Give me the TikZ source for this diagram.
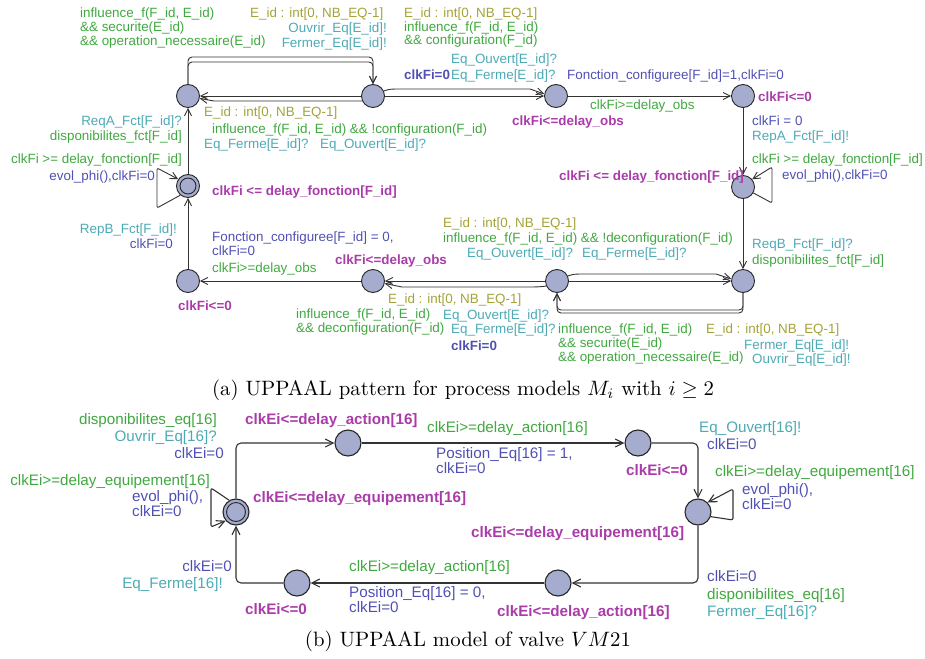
\documentclass[tikz,border=0pt]{standalone}
\usepackage{fontspec}
\usepackage{amsmath}
\usepackage{amssymb}
\usetikzlibrary{arrows.meta}
\newfontfamily\upfont{Liberation Sans}
\definecolor{locfill}{RGB}{165,172,205}
\definecolor{selc}{RGB}{163,163,57}
\definecolor{grdc}{RGB}{64,168,64}
\definecolor{sync}{RGB}{77,170,180}
\definecolor{asgc}{RGB}{80,80,180}
\definecolor{invc}{RGB}{170,60,170}

\begin{document}
\begin{tikzpicture}[x=1pt,y=-1pt,
        >={Straight Barb[length=7pt,width=7pt]},
        loc/.style={circle,draw=black!85,fill=locfill,line width=0.9pt,minimum size=23pt,inner sep=0pt},
        init/.style={loc,path picture={\draw[line width=0.9pt,draw=black!85] (path picture bounding box.center) circle (#1);}},
        edge/.style={draw=black!80,line width=0.9pt,->},
        lbl/.style={inner sep=0pt,align=left},
        sel/.style={lbl,text=selc},
        grd/.style={lbl,text=grdc},
        syn/.style={lbl,text=sync},
        asg/.style={lbl,text=asgc},
        asgb/.style={asg,execute at begin node=\bfseries},
        inv/.style={lbl,text=invc,execute at begin node=\bfseries}]
    \useasboundingbox (0,0) rectangle (925,658);

    \begin{scope}[font=\upfont\fontsize{13.4}{13.8}\selectfont]
        \node [init=8pt] (l0) at (188,186) {};
        \node [loc] (l1) at (188,96) {};
        \node [loc] (l2) at (373,96) {};
        \node [loc] (l3) at (556,96) {};
        \node [loc] (l4) at (743,96) {};
        \node [loc] (l5) at (743,187) {};
        \node [loc] (l6) at (743,281) {};
        \node [loc] (l7) at (557,281) {};
        \node [loc] (l8) at (373,281) {};
        \node [loc] (l9) at (188,281) {};

        \draw [edge,rounded corners=4] (l1) -- ++(0,-39) -| (l2);
        \draw [edge,rounded corners=4] (l1) -- ++(0,-34) -| (l2);
        \draw [edge] (l2) -- (l1);
        \draw [edge] (l2.205) .. controls (352,101) .. (338,101) -- (214,101) -- (l1.-12);
        \draw [edge] (l2) -- (l3);
        \draw [edge] (l2.25) .. controls (390,89) .. (402,89) -- (530,89) -- (l3.170);
        \draw [edge] (l3) -- (l4);
        \draw [edge] (l4) -- (l5);
        \draw [edge,rounded corners=2] (l5.-30) -- (772,203) -- (772,167) -- (l5.40);
        \draw [edge] (l5) -- (l6);
        \draw [edge] (l7) -- (l6);
        \draw [edge] (l7.25) .. controls (574,274) .. (586,274) -- (716,274) -- (l6.170);
        \draw [edge,rounded corners=4] (l6) -- ++(0,32) -| (l7);
        \draw [edge,rounded corners=4] (l6) -- ++(0,29) -| (l7);
        \draw [edge] (l7) -- (l8);
        \draw [edge] (l7.205) .. controls (538,287) .. (526,287) -- (402,287) -- (l8.-12);
        \draw [edge] (l8) -- (l9);
        \draw [edge] (l9) -- (l0);
        \draw [edge,rounded corners=2] (l0.230) -- (157,208) -- (157,168) -- (l0.145);
        \draw [edge] (l0) -- (l1);

        \node [grd,anchor=base west] (g1) at (80,45.5) {influence\_f(F\_id, E\_id)\\\&\& securite(E\_id)\\\&\& operation\_necessaire(E\_id)};
        \node [sel,anchor=base west] (s1) at (250,18) {E\_id : int[0, NB\_EQ-1]};
        \node [syn,anchor=base east] (y1) at (387,33) {Ouvrir\_Eq[E\_id]!};
        \node [syn,anchor=base east] (y2) at (387,48) {Fermer\_Eq[E\_id]!};
        \node [sel,anchor=base west] (s2) at (404,18) {E\_id : int[0, NB\_EQ-1]};
        \node [grd,anchor=base west] (g2) at (404,45) {influence\_f(F\_id, E\_id)\\\&\& configuration(F\_id)};
        \node [syn,anchor=base west] (y3) at (451,64) {Eq\_Ouvert[E\_id]?};
        \node [asgb,anchor=base west] (a1) at (404,80) {clkFi=0};
        \node [syn,anchor=base west] (y4) at (451,80) {Eq\_Ferme[E\_id]?};
        \node [asg,anchor=base west] (a2) at (567,80) {Fonction\_configuree[F\_id]=1,clkFi=0};
        \node [inv,anchor=base west] (i1) at (758,102) {clkFi<=0};
        \node [grd,anchor=base west] (g3) at (590,110) {clkFi>=delay\_obs};
        \node [inv,anchor=base west] (i2) at (512,125) {clkFi<=delay\_obs};
        \node [sel,anchor=base west] (s3) at (204,117) {E\_id : int[0, NB\_EQ-1]};
        \node [grd,anchor=base west] (g4) at (212,133) {influence\_f(F\_id, E\_id) \&\& !configuration(F\_id)};
        \node [syn,anchor=base west] (y5) at (204,148) {Eq\_Ferme[E\_id]?};
        \node [syn,anchor=base west] (y6) at (320,148) {Eq\_Ouvert[E\_id]?};
        \node [asg,anchor=base west] (a3) at (752,125) {clkFi = 0};
        \node [syn,anchor=base west] (y7) at (752,140) {RepA\_Fct[F\_id]!};
        \node [grd,anchor=base west] (g5) at (752,163) {clkFi >= delay\_fonction[F\_id]};
        \node [asg,anchor=base west] (a4) at (782,179) {evol\_phi(),clkFi=0};
        \node [inv,anchor=base west] (i3) at (559,180) {clkFi <= delay\_fonction[F\_id]};
        \node [syn,anchor=base east] (y8) at (182,125) {ReqA\_Fct[F\_id]?};
        \node [grd,anchor=base east] (g6) at (182,140) {disponibilites\_fct[F\_id]};
        \node [grd,anchor=base east] (g7) at (182,163) {clkFi >= delay\_fonction[F\_id]};
        \node [asg,anchor=base east] (a5) at (155,180) {evol\_phi(),clkFi=0};
        \node [inv,anchor=base west] (i4) at (212,195) {clkFi <= delay\_fonction[F\_id]};
        \node [syn,anchor=base east] (y9) at (177,233) {RepB\_Fct[F\_id]!};
        \node [asg,anchor=base east] (a6) at (173,248) {clkFi=0};
        \node [asg,anchor=base west] (a7) at (212,255.5) {Fonction\_configuree[F\_id] = 0,\\clkFi=0};
        \node [grd,anchor=base west] (g8) at (212,272) {clkFi>=delay\_obs};
        \node [inv,anchor=base west] (i5) at (335,264) {clkFi<=delay\_obs};
        \node [sel,anchor=base west] (s4) at (443,227) {E\_id : int[0, NB\_EQ-1]};
        \node [grd,anchor=base west] (g9) at (443,242) {influence\_f(F\_id, E\_id) \&\& !deconfiguration(F\_id)};
        \node [syn,anchor=base west] (y10) at (467,257) {Eq\_Ouvert[E\_id]?};
        \node [syn,anchor=base west] (y11) at (582,257) {Eq\_Ferme[E\_id]?};
        \node [syn,anchor=base west] (y12) at (752,248) {ReqB\_Fct[F\_id]?};
        \node [grd,anchor=base west] (g10) at (752,264) {disponibilites\_fct[F\_id]};
        \node [inv,anchor=base west] (i6) at (178,310) {clkFi<=0};
        \node [sel,anchor=base west] (s5) at (388,303) {E\_id : int[0, NB\_EQ-1]};
        \node [grd,anchor=base west] (g11) at (296,332.5) {influence\_f(F\_id, E\_id)\\\&\& deconfiguration(F\_id)};
        \node [syn,anchor=base west] (y13) at (443,319) {Eq\_Ouvert[E\_id]?};
        \node [syn,anchor=base west] (y14) at (451,333) {Eq\_Ferme[E\_id]?};
        \node [asgb,anchor=base west] (a8) at (451,350) {clkFi=0};
        \node [grd,anchor=base west] (g12) at (558,361) {influence\_f(F\_id, E\_id)\\\&\& securite(E\_id)\\\&\& operation\_necessaire(E\_id)};
        \node [sel,anchor=base west] (s6) at (706,333) {E\_id : int[0, NB\_EQ-1]};
        \node [syn,anchor=base west] (y15) at (744,349) {Fermer\_Eq[E\_id]!};
        \node [syn,anchor=base west] (y16) at (752,363) {Ouvrir\_Eq[E\_id]!};
    \end{scope}

    \node [scale=2.08] (capa) at (463,390) {(a) UPPAAL pattern for process models $M_i$ with $i \geq 2$};

    \begin{scope}[font=\upfont\fontsize{15.2}{15}\selectfont,
            loc/.append style={minimum size=26pt,line width=1.1pt},
            edge/.append style={line width=1.1pt},
            >={Straight Barb[length=8pt,width=8pt]}]
        \node [init=9.5pt] (v0) at (236,512) {};
        \node [loc] (v1) at (348,443) {};
        \node [loc] (v2) at (638,443) {};
        \node [loc] (v3) at (698,512) {};
        \node [loc] (v4) at (558,583) {};
        \node [loc] (v5) at (297,583) {};

        \draw [edge,rounded corners=5] (v0) |- (v1);
        \draw [edge] (v1) -- (v2);
        \draw [edge,rounded corners=5] (v2) -| (v3);
        \draw [edge,rounded corners=2] (v3.-20) -- (733,520) -- (733,489) -- (v3.45);
        \draw [edge,rounded corners=5] (v3) |- (v4);
        \draw [edge] (v4) -- (v5);
        \draw [edge,rounded corners=5] (v5) -| (v0);
        \draw [edge,rounded corners=2] (v0.120) -- (211,488) -- (211,527) -- (v0.220);

        \node [grd,anchor=base east] (e1) at (217,424) {disponibilites\_eq[16]};
        \node [syn,anchor=base east] (e2) at (217,441) {Ouvrir\_Eq[16]?};
        \node [asg,anchor=base east] (e3) at (224,458) {clkEi=0};
        \node [grd,anchor=base east] (e4) at (210,485) {clkEi>=delay\_equipement[16]};
        \node [asg,anchor=base west] (e5) at (132,516.5) {evol\_phi(),\\clkEi=0};
        \node [inv,anchor=base west] (e6) at (245,424) {clkEi<=delay\_action[16]};
        \node [inv,anchor=base west] (e7) at (253,502) {clkEi<=delay\_equipement[16]};
        \node [asg,anchor=base east] (e8) at (232,571) {clkEi=0};
        \node [syn,anchor=base east] (e9) at (223,588) {Eq\_Ferme[16]!};
        \node [inv,anchor=base west] (e10) at (245,614) {clkEi<=0};
        \node [grd,anchor=base west] (e11) at (349,571) {clkEi>=delay\_action[16]};
        \node [asg,anchor=base west] (e12) at (349,612) {Position\_Eq[16] = 0,\\clkEi=0};
        \node [grd,anchor=base west] (e13) at (427,432) {clkEi>=delay\_action[16]};
        \node [asg,anchor=base west] (e14) at (436,473) {Position\_Eq[16] = 1,\\clkEi=0};
        \node [inv,anchor=base west] (e15) at (626,475) {clkEi<=0};
        \node [syn,anchor=base west] (e16) at (699,432) {Eq\_Ouvert[16]!};
        \node [asg,anchor=base west] (e17) at (707,449) {clkEi=0};
        \node [grd,anchor=base west] (e18) at (715,476) {clkEi>=delay\_equipement[16]};
        \node [asg,anchor=base west] (e19) at (742,509) {evol\_phi(),\\clkEi=0};
        \node [inv,anchor=base west] (e20) at (471,537) {clkEi<=delay\_equipement[16]};
        \node [asg,anchor=base west] (e21) at (707,581) {clkEi=0};
        \node [grd,anchor=base west] (e22) at (707,599) {disponibilites\_eq[16]};
        \node [syn,anchor=base west] (e23) at (707,616) {Fermer\_Eq[16]?};
        \node [inv,anchor=base west] (e24) at (497,616) {clkEi<=delay\_action[16]};
    \end{scope}

    \node [scale=2.08] (capb) at (468,641) {(b) UPPAAL model of valve $V M21$};
\end{tikzpicture}
\end{document}
